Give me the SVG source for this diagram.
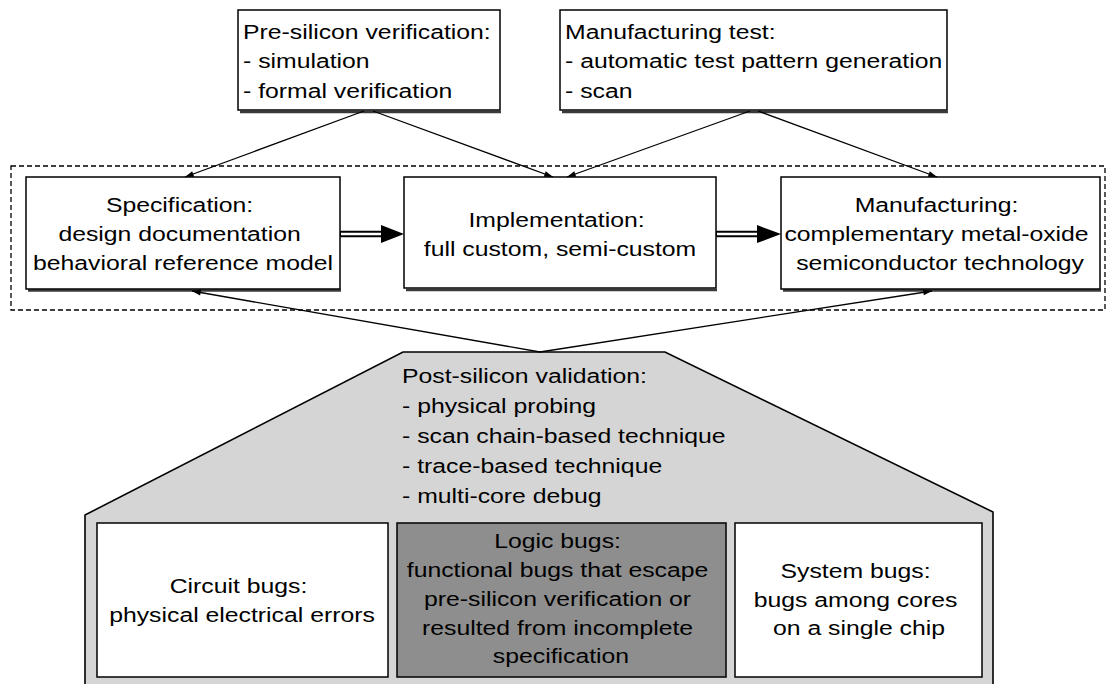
<svg xmlns="http://www.w3.org/2000/svg" width="1109" height="684" viewBox="0 0 1109 684">
  <defs>
    <!-- small arrowhead for the thin connectors -->
    <marker id="tip" viewBox="0 0 10 8" refX="10" refY="4" markerWidth="10" markerHeight="7" markerUnits="userSpaceOnUse" orient="auto">
      <path d="M0,0.6 L10,4 L0,7.4 Z" fill="#000"/>
    </marker>
  </defs>
  <style>
    .box{fill:#fff;stroke:#000;stroke-width:1.5}
    .shadow{fill:none;stroke:#3a3a3a;stroke-width:2.5}
    .lbl{font-family:"Liberation Sans",Arial,Helvetica,sans-serif;font-size:21px;fill:#000}
    .c{text-anchor:middle}
    .edge{fill:none;stroke:#000;stroke-width:1.3;marker-end:url(#tip)}
    .dbl-out{stroke:#000;stroke-width:6.5}
    .dbl-in{stroke:#fff;stroke-width:2.4}
    .head{fill:#000}
    .frame{fill:none;stroke:#000;stroke-width:1.3;stroke-dasharray:5 3}
    .post{fill:#d5d5d5;stroke:#000;stroke-width:1.6}
    .logic{fill:#8e8e8e;stroke:#000;stroke-width:1.5}
  </style>

  <!-- design flow frame -->
  <rect class="frame" x="11" y="166" width="1094" height="144"/>

  <!-- post-silicon validation -->
  <g id="post-silicon">
    <polygon class="post" points="85,690 85,515 403,352 665,352 993,512 993,690"/>
    <text class="lbl" transform="translate(402 383) scale(1.18 1)">
      <tspan x="0" dy="0">Post-silicon validation:</tspan>
      <tspan x="0" dy="30">- physical probing</tspan>
      <tspan x="0" dy="30">- scan chain-based technique</tspan>
      <tspan x="0" dy="30">- trace-based technique</tspan>
      <tspan x="0" dy="30">- multi-core debug</tspan>
    </text>
  </g>

  <g id="pre-silicon">
    <line class="shadow" x1="240" y1="112" x2="501" y2="112"/>
    <rect class="box" x="238" y="10" width="262" height="100"/>
    <text class="lbl" transform="translate(243 39) scale(1.18 1)">
      <tspan x="0" dy="0">Pre-silicon verification:</tspan>
      <tspan x="0" dy="29.5">- simulation</tspan>
      <tspan x="0" dy="29.5">- formal verification</tspan>
    </text>
  </g>

  <g id="manufacturing-test">
    <line class="shadow" x1="562" y1="112" x2="948" y2="112"/>
    <rect class="box" x="560" y="10" width="387" height="100"/>
    <text class="lbl" transform="translate(565 39) scale(1.18 1)">
      <tspan x="0" dy="0">Manufacturing test:</tspan>
      <tspan x="0" dy="29.5">- automatic test pattern generation</tspan>
      <tspan x="0" dy="29.5">- scan</tspan>
    </text>
  </g>

  <g id="specification">
    <line class="shadow" x1="28" y1="290.5" x2="341" y2="290.5"/>
    <rect class="box" x="26" y="177" width="314" height="112"/>
    <text class="lbl c" transform="translate(183 212) scale(1.18 1)">
      <tspan x="0" dy="0">Specification:</tspan>
      <tspan x="0" dy="29">design documentation</tspan>
      <tspan x="0" dy="29">behavioral reference model</tspan>
    </text>
  </g>

  <g id="implementation">
    <line class="shadow" x1="406" y1="290" x2="717" y2="290"/>
    <rect class="box" x="404" y="177" width="312" height="111"/>
    <text class="lbl c" transform="translate(560 227) scale(1.18 1)">
      <tspan x="0" dy="0">Implementation:</tspan>
      <tspan x="0" dy="29">full custom, semi-custom</tspan>
    </text>
  </g>

  <g id="manufacturing">
    <line class="shadow" x1="783" y1="290.5" x2="1101" y2="290.5"/>
    <rect class="box" x="781" y="177" width="319" height="112"/>
    <text class="lbl c" transform="translate(940 212) scale(1.18 1)">
      <tspan x="0" dy="0">Manufacturing:</tspan>
      <tspan x="0" dy="29">complementary metal-oxide</tspan>
      <tspan x="0" dy="29">semiconductor technology</tspan>
    </text>
  </g>

  <g id="circuit-bugs">
    <rect class="box" x="97" y="523" width="291" height="154"/>
    <text class="lbl c" transform="translate(242 593) scale(1.18 1)">
      <tspan x="0" dy="0">Circuit bugs:</tspan>
      <tspan x="0" dy="29">physical electrical errors</tspan>
    </text>
  </g>

  <g id="logic-bugs">
    <rect class="logic" x="397" y="523" width="329" height="154"/>
    <text class="lbl c" transform="translate(561 548) scale(1.18 1)">
      <tspan x="0" dy="0">Logic bugs:</tspan>
      <tspan x="0" dy="29.5">functional bugs that escape</tspan>
      <tspan x="0" dy="29">pre-silicon verification or</tspan>
      <tspan x="0" dy="28.5">resulted from incomplete</tspan>
      <tspan x="0" dy="28.5">specification</tspan>
    </text>
  </g>

  <g id="system-bugs">
    <rect class="box" x="735" y="523" width="247" height="154"/>
    <text class="lbl c" transform="translate(859 578) scale(1.18 1)">
      <tspan x="0" dy="0">System bugs:</tspan>
      <tspan x="0" dy="29">bugs among cores</tspan>
      <tspan x="0" dy="28.5">on a single chip</tspan>
    </text>
  </g>

  <g id="connectors">
    <!-- verification and test feed into the flow -->
    <line class="edge" x1="364" y1="111" x2="185" y2="177"/>
    <line class="edge" x1="373" y1="111" x2="553" y2="177"/>
    <line class="edge" x1="750" y1="111" x2="567" y2="177"/>
    <line class="edge" x1="758" y1="111" x2="937" y2="177"/>
    <!-- post-silicon validation feeds back -->
    <line class="edge" x1="540" y1="352" x2="192" y2="291"/>
    <line class="edge" x1="540" y1="352" x2="932" y2="291"/>
    <!-- flow steps: double-line arrows -->
    <line class="dbl-out" x1="340" y1="234" x2="383" y2="234"/>
    <line class="dbl-in" x1="341" y1="234" x2="384" y2="234"/>
    <polygon class="head" points="381,225 404,234 381,243"/>
    <line class="dbl-out" x1="716" y1="234" x2="759" y2="234"/>
    <line class="dbl-in" x1="717" y1="234" x2="760" y2="234"/>
    <polygon class="head" points="757,225 781,234 757,243"/>
  </g>
</svg>
